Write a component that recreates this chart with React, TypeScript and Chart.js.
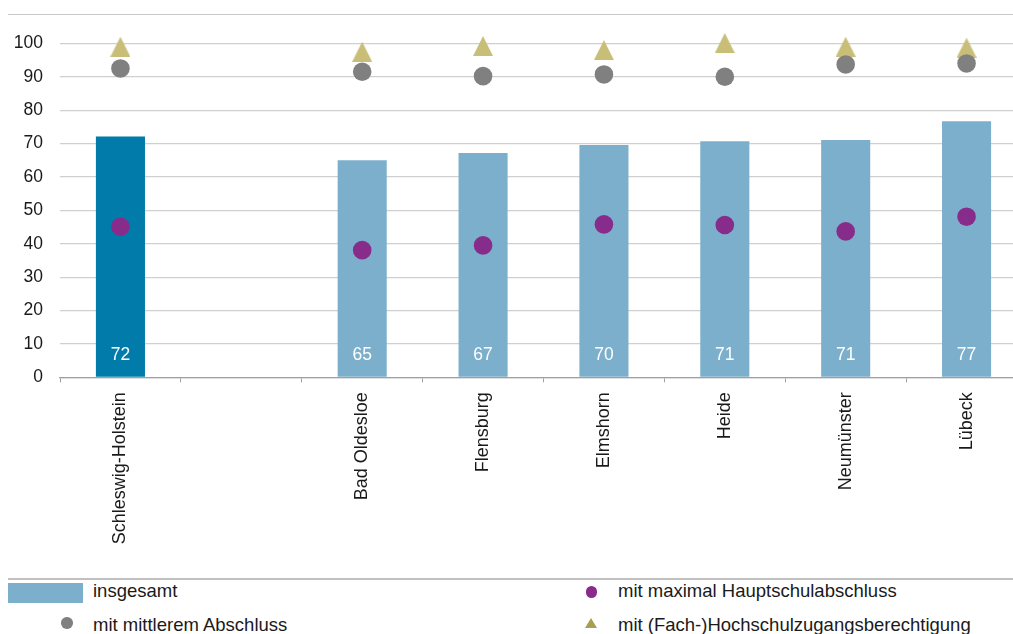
import React, { useEffect, useRef } from 'react';
import { Chart, registerables } from 'chart.js';

Chart.register(...registerables);

const categories = ['Schleswig-Holstein', '', 'Bad Oldesloe', 'Flensburg', 'Elmshorn', 'Heide', 'Neumünster', 'Lübeck'];
const insgesamt = [72.1, null, 65.0, 67.2, 69.6, 70.7, 71.1, 76.7];
const maxHauptschul = [45.1, null, 38.1, 39.5, 45.8, 45.6, 43.7, 48.1];
const mittlerer = [92.5, null, 91.5, 90.2, 90.7, 90.0, 93.7, 94.0];
const hochschul = [99.0, null, 97.5, 99.2, 98.0, 100.1, 99.0, 98.7];
const yMin = 0;
const yMax = 110;
const yStep = 10;
const yLabelMax = 100;

const legendLabels = {
  total: 'insgesamt',
  haupt: 'mit maximal Hauptschulabschluss',
  mittel: 'mit mittlerem Abschluss',
  hoch: 'mit (Fach-)Hochschulzugangsberechtigung',
};

const FONT = '"Liberation Sans", Arial, sans-serif';
const DARK_BLUE = '#007BAA';
const LIGHT_BLUE = '#7BAFCB';
const PURPLE = '#872C8A';
const GREY = '#808080';
const OLIVE = '#C8BE78';
const GRID = '#d0d0d0';
const CANVAS_W = 1037;
const CANVAS_H = 570;

function makeTriangle(color: string) {
  const c = document.createElement('canvas');
  c.width = 20;
  c.height = 20;
  const ctx = c.getContext('2d')!;
  ctx.fillStyle = color;
  ctx.beginPath();
  ctx.moveTo(10, 0);
  ctx.lineTo(20, 20);
  ctx.lineTo(0, 20);
  ctx.closePath();
  ctx.fill();
  return c;
}

const barLabelPlugin = {
  id: 'barLabels',
  afterDatasetsDraw(chart: any) {
    const meta = chart.getDatasetMeta(0);
    const ctx = chart.ctx;
    const y0 = chart.scales.y.getPixelForValue(0);
    ctx.save();
    ctx.font = `17.5px ${FONT}`;
    ctx.fillStyle = '#ffffff';
    ctx.textAlign = 'center';
    ctx.textBaseline = 'middle';
    meta.data.forEach((bar: any, i: number) => {
      const v = insgesamt[i];
      if (v == null) return;
      ctx.fillText(String(Math.round(v)), bar.x, y0 - 22.3);
    });
    ctx.restore();
  },
};

export default function App() {
  const canvasRef = useRef<HTMLCanvasElement | null>(null);

  useEffect(() => {
    const canvas = canvasRef.current;
    if (!canvas) return;
    const tri = makeTriangle(OLIVE);
    const chart = new Chart(canvas, {
      type: 'bar',
      data: {
        labels: categories,
        datasets: [
          {
            type: 'bar',
            label: legendLabels.total,
            data: insgesamt,
            backgroundColor: insgesamt.map((_, i) => (i === 0 ? DARK_BLUE : LIGHT_BLUE)),
            borderWidth: 0,
            barPercentage: 0.406,
            categoryPercentage: 1,
            order: 1,
          } as any,
          {
            type: 'line',
            label: legendLabels.haupt,
            data: maxHauptschul,
            showLine: false,
            pointStyle: 'circle',
            pointRadius: 9.3,
            pointBorderWidth: 0,
            pointBackgroundColor: PURPLE,
            pointBorderColor: PURPLE,
            clip: false,
            order: 0,
          } as any,
          {
            type: 'line',
            label: legendLabels.mittel,
            data: mittlerer,
            showLine: false,
            pointStyle: 'circle',
            pointRadius: 9.3,
            pointBorderWidth: 0,
            pointBackgroundColor: GREY,
            pointBorderColor: GREY,
            clip: false,
            order: 0,
          } as any,
          {
            type: 'line',
            label: legendLabels.hoch,
            data: hochschul,
            showLine: false,
            pointStyle: tri,
            pointRadius: 10,
            pointBorderWidth: 0,
            pointBackgroundColor: OLIVE,
            clip: false,
            order: 0,
          } as any,
        ],
      },
      options: {
        responsive: false,
        animation: false,
        events: [],
        layout: { padding: { top: 9.9, left: 0, right: 0, bottom: 0 } },
        plugins: { legend: { display: false }, tooltip: { enabled: false } },
        scales: {
          x: {
            grid: {
              display: true,
              drawOnChartArea: false,
              drawTicks: true,
              tickLength: 5,
              color: '#a0a0a0',
              offset: true,
            },
            border: { display: true, color: '#a0a0a0', width: 1.3 },
            ticks: {
              autoSkip: false,
              maxRotation: 90,
              minRotation: 90,
              padding: 10,
              color: '#1a1a1a',
              font: { family: FONT, size: 18 },
            },
            afterFit: (s: any) => {
              s.height = CANVAS_H - 377.3;
              s.paddingLeft = 0;
              s.paddingRight = 0;
            },
          },
          y: {
            min: yMin,
            max: yMax,
            grid: {
              display: true,
              drawTicks: false,
              color: (c: any) => (c.tick && c.tick.value > yLabelMax ? 'rgba(0,0,0,0)' : GRID),
              lineWidth: 1.2,
            },
            border: { display: false },
            ticks: {
              stepSize: yStep,
              padding: 17,
              color: '#1a1a1a',
              font: { family: FONT, size: 17.5 },
              callback: (v: any) => (v <= yLabelMax ? String(v) : ''),
            },
            afterFit: (s: any) => {
              s.width = 60;
              s.paddingTop = 0;
              s.paddingBottom = 0;
            },
          },
        },
      },
      plugins: [barLabelPlugin],
    } as any);
    return () => chart.destroy();
  }, []);

  const textStyle: React.CSSProperties = {
    position: 'absolute',
    fontFamily: FONT,
    fontSize: '18.5px',
    lineHeight: '22px',
    color: '#1a1a1a',
    whiteSpace: 'nowrap',
  };

  return (
    <div style={{ position: 'relative', width: 1013, height: 634, overflow: 'hidden', background: '#fff' }}>
      <style>{`html,body{margin:0;padding:0;overflow:hidden;}`}</style>
      <div style={{ position: 'absolute', left: 8, top: 13.5, width: 1005, height: 1.3, background: '#c8c8c8' }} />
      <canvas ref={canvasRef} width={CANVAS_W} height={CANVAS_H} style={{ position: 'absolute', left: 0, top: 0, width: CANVAS_W, height: CANVAS_H }} />
      <div style={{ position: 'absolute', left: 8, top: 578, width: 1005, height: 1.8, background: '#c0c0c0' }} />
      <div style={{ position: 'absolute', left: 8, top: 583, width: 75, height: 20, background: LIGHT_BLUE }} />
      <div style={{ ...textStyle, left: 93, top: 580 }}>{legendLabels.total}</div>
      <div style={{ position: 'absolute', left: 61, top: 617, width: 11.5, height: 11.5, borderRadius: '50%', background: GREY }} />
      <div style={{ ...textStyle, left: 93, top: 613.5 }}>{legendLabels.mittel}</div>
      <div style={{ position: 'absolute', left: 585.5, top: 586, width: 11.5, height: 11.5, borderRadius: '50%', background: PURPLE }} />
      <div style={{ ...textStyle, left: 618, top: 580 }}>{legendLabels.haupt}</div>
      <svg style={{ position: 'absolute', left: 585, top: 618 }} width={12} height={10}>
        <polygon points="6,0 12,10 0,10" fill="#A99F50" />
      </svg>
      <div style={{ ...textStyle, left: 618, top: 613.5 }}>{legendLabels.hoch}</div>
    </div>
  );
}
